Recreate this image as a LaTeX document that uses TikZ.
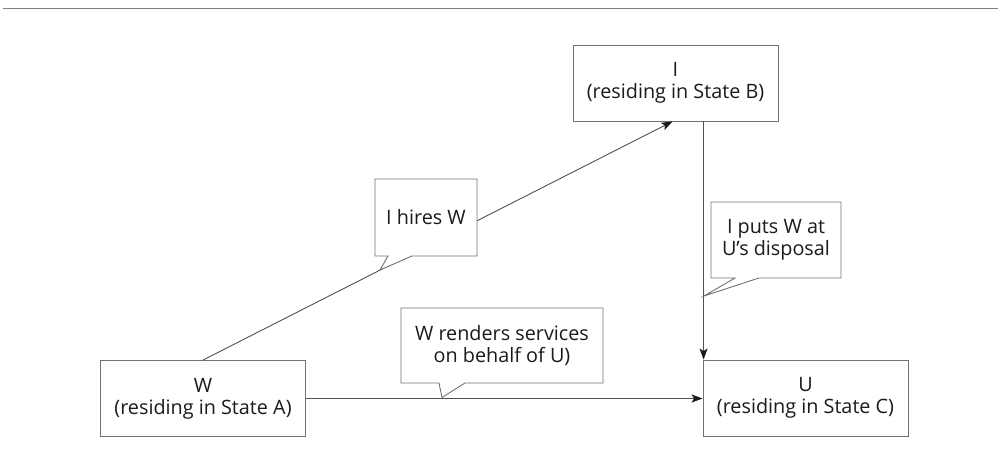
\documentclass[tikz,border=0pt]{standalone}
\usepackage{fontspec}
\setmainfont{Open Sans}
\usetikzlibrary{arrows.meta,calc}
\definecolor{boxline}{RGB}{118,113,113}
\definecolor{conn}{RGB}{80,80,80}
\definecolor{tip}{RGB}{30,26,26}
\definecolor{ink}{RGB}{28,26,26}
\definecolor{rule}{RGB}{128,128,128}
\tikzset{
  party/.style={draw=boxline, line width=0.9pt, fill=white, minimum width=205pt,
    minimum height=76pt, inner sep=0pt, align=center, text=ink,
    font=\fontsize{19.8}{22}\selectfont},
  note/.style={inner sep=0pt, align=center, text=ink,
    font=\fontsize{19.8}{22}\selectfont},
  notebox/.style={draw=boxline, line width=0.9pt, fill=white, line join=miter},
  link/.style={draw=conn, line width=0.9pt},
  arrowlink/.style={link, -{Stealth[length=11pt,width=8pt,inset=2.5pt,color=tip]}}
}
\begin{document}
\begin{tikzpicture}[x=1pt,y=-1pt]
  \useasboundingbox (0,0) rectangle (998,463);
  % rule across the top
  \draw[rule, line width=1.4pt] (3,8.5) -- (998,8.5);

  % parties
  \node[party] (I) at (675.5,83) {I\\(residing in State B)};
  \node[party] (W) at (203,398.5) {W\\(residing in State A)};
  \node[party] (U) at (805.5,398) {U\\(residing in State C)};

  % connectors
  \draw[arrowlink] (W.north) -- ([xshift=-3pt]I.south);
  \coordinate (Utop) at ($(U.north west)+(1,0)$);
  \draw[arrowlink] (Utop |- I.south) -- (Utop);
  \draw[arrowlink] (W.east) -- (W.east -| U.west);

  % speech-bubble notes
  \coordinate (t1) at (380,270);
  \coordinate (t2) at (704,296);
  \coordinate (t3) at (442,397.5);

  \path (375,179) coordinate (a1) (477,256) coordinate (b1);
  \draw[notebox] (a1) -- (a1 -| b1) -- (b1) -- (412,256) -- (t1) -- (388,256)
    -- (a1 |- b1) -- cycle;
  \node[note] (n1) at ($(a1)!0.5!(b1)$) {I hires W};

  \path (711,202) coordinate (a2) (841,278) coordinate (b2);
  \draw[notebox] (a2) -- (a2 -| b2) -- (b2) -- (759,278) -- (t2) -- (735,278)
    -- (a2 |- b2) -- cycle;
  \node[note] (n2) at ($(a2)!0.5!(b2)$) {I puts W at\\U’s disposal};

  \path (401,308) coordinate (a3) (603,383) coordinate (b3);
  \draw[notebox] (a3) -- (a3 -| b3) -- (b3) -- (465,383) -- (t3) -- (439,383)
    -- (a3 |- b3) -- cycle;
  \node[note] (n3) at ($(a3)!0.5!(b3)$) {W renders services\\on behalf of U)};
\end{tikzpicture}
\end{document}
